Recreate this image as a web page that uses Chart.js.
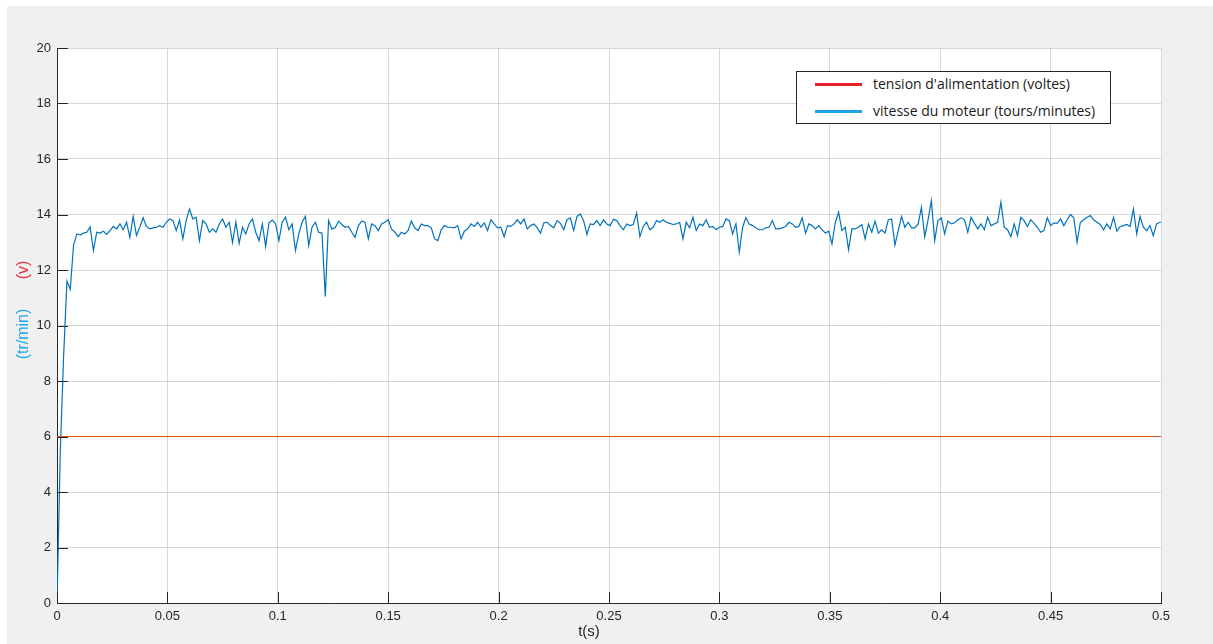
<!DOCTYPE html>
<html>
<head>
<meta charset="utf-8">
<script src="https://cdn.jsdelivr.net/npm/chart.js@4.4.1/dist/chart.umd.min.js"></script>
<style>
    body { margin: 0; background: #ffffff; }
    #wrap { position: relative; width: 1213px; height: 644px; }
    #legende {
        position: absolute; left: 796px; top: 71px; width: 313px; height: 51px;
        border: 1px solid #262626; background: #ffffff;
        font-family: "Open Sans", "Noto Sans", sans-serif; font-size: 14px; color: #1a1a1a;
    }
    .ligne { position: absolute; left: 0; height: 20px; line-height: 20px; white-space: nowrap; }
    .trait { position: absolute; left: 18px; top: 9px; width: 47px; height: 3px; }
    .texte { position: absolute; left: 76px; top: 0; }
</style>
</head>
<body>
<div id="wrap">
    <canvas id="moteurChart" width="1213" height="644"></canvas>
    <div id="legende"></div>
</div>
<script>
// Données
const xTicks = [0, 0.05, 0.1, 0.15, 0.2, 0.25, 0.3, 0.35, 0.4, 0.45, 0.5];
const xTickLabels = ['0', '0.05', '0.1', '0.15', '0.2', '0.25', '0.3', '0.35', '0.4', '0.45', '0.5'];
const yTicks = [0, 2, 4, 6, 8, 10, 12, 14, 16, 18, 20];
const yTickLabels = ['0', '2', '4', '6', '8', '10', '12', '14', '16', '18', '20'];

const legendLabels = ["tension d'alimentation (voltes)", 'vitesse du moteur (tours/minutes)'];
const legendColors = ['#E8222B', '#1CA3E3'];

// tension d'alimentation : constante
const tensionTimes = [0, 0.5];
const tensionValues = [6, 6];

// vitesse du moteur : un échantillon toutes les 1.5 ms
const sampleStep = 0.0015;
const vitesseValues = [
    0, 5.5, 8.9, 11.6, 11.3, 12.9, 13.3, 13.27, 13.33, 13.36,
    13.55, 12.7, 13.36, 13.33, 13.4, 13.28, 13.42, 13.57, 13.48, 13.66,
    13.45, 13.72, 13.18, 13.93, 13.24, 13.54, 13.88, 13.57, 13.48, 13.52,
    13.54, 13.6, 13.54, 13.72, 13.84, 13.78, 13.42, 13.8, 13.12, 13.78,
    14.2, 13.84, 13.9, 13.06, 13.78, 13.66, 13.36, 13.48, 13.36, 13.66,
    13.84, 13.54, 13.72, 12.99, 13.72, 12.96, 13.54, 13.3, 13.66, 13.84,
    13.36, 13.06, 13.66, 12.85, 13.7, 13.8, 13.66, 13.06, 13.72, 13.9,
    13.45, 13.66, 12.7, 13.3, 13.72, 13.93, 12.88, 13.54, 13.72, 13.36,
    13.33, 11.05, 13.78, 13.48, 13.52, 13.76, 13.64, 13.54, 13.57, 13.36,
    13.18, 13.6, 13.76, 13.72, 13.12, 13.66, 13.6, 13.42, 13.66, 13.72,
    13.81, 13.48, 13.36, 13.2, 13.36, 13.3, 13.42, 13.76, 13.52, 13.42,
    13.66, 13.6, 13.6, 13.52, 13.12, 13.06, 13.45, 13.6, 13.54, 13.54,
    13.52, 13.6, 13.12, 13.4, 13.48, 13.66, 13.57, 13.72, 13.54, 13.7,
    13.42, 13.81, 13.66, 13.52, 13.54, 13.2, 13.6, 13.57, 13.66, 13.81,
    13.66, 13.84, 13.48, 13.6, 13.66, 13.52, 13.33, 13.7, 13.72, 13.6,
    13.52, 13.78, 13.68, 13.45, 13.81, 13.88, 13.42, 13.93, 14.02, 13.78,
    13.28, 13.66, 13.64, 13.78, 13.6, 13.81, 13.66, 13.6, 13.83, 13.78,
    13.6, 13.45, 13.66, 13.6, 13.64, 14.05, 13.2, 13.57, 13.72, 13.45,
    13.54, 13.78, 13.72, 13.81, 13.72, 13.68, 13.64, 13.66, 13.72, 13.12,
    13.72, 13.52, 13.9, 13.42, 13.66, 13.6, 13.81, 13.54, 13.57, 13.45,
    13.54, 13.57, 13.84, 13.78, 13.3, 13.66, 12.64, 13.54, 13.88, 13.66,
    13.6, 13.52, 13.45, 13.45, 13.52, 13.54, 13.78, 13.48, 13.48, 13.52,
    13.57, 13.72, 13.66, 13.54, 13.57, 13.88, 13.33, 13.66, 13.6, 13.48,
    13.6, 13.45, 13.33, 13.4, 12.94, 13.72, 14.08, 13.42, 13.54, 12.73,
    13.48, 13.48, 13.54, 13.64, 13.12, 13.66, 13.36, 13.76, 13.33, 13.45,
    13.33, 13.81, 13.84, 12.9, 13.42, 13.93, 13.54, 13.72, 13.52, 13.52,
    13.66, 14.26, 13.2, 13.81, 14.5, 13.06, 13.78, 13.88, 13.3, 13.76,
    13.66, 13.7, 13.81, 13.88, 13.81, 13.36, 13.9, 13.68, 13.48, 13.66,
    13.45, 13.9, 13.6, 13.66, 13.72, 14.44, 13.54, 13.45, 13.2, 13.66,
    13.24, 13.9, 13.78, 13.57, 13.81, 13.68, 13.54, 13.36, 13.42, 13.88,
    13.6, 13.7, 13.68, 13.84, 13.6, 13.81, 14.0, 13.88, 13.0, 13.72,
    13.81, 13.9, 13.96, 13.81, 13.72, 13.64, 13.45, 13.66, 13.48, 13.9,
    13.4, 13.57, 13.6, 13.64, 13.57, 14.2, 13.3, 13.93, 13.54, 13.42,
    13.6, 13.24, 13.66, 13.72
];
const vitesseEnd = { t: 0.5, v: 13.72 };

// Construction des points
const tensionPoints = tensionTimes.map((t, i) => ({ x: t, y: tensionValues[i] }));
const vitessePoints = vitesseValues.map((v, i) => ({ x: +(i * sampleStep).toFixed(4), y: v }));
vitessePoints.push({ x: vitesseEnd.t, y: vitesseEnd.v });

// Légende HTML
const legende = document.getElementById('legende');
legendLabels.forEach(function(label, i) {
    const ligne = document.createElement('div');
    ligne.className = 'ligne';
    ligne.style.top = (2 + i * 27) + 'px';
    ligne.innerHTML = '<span class="trait" style="background:' + legendColors[i] + '"></span>' +
        '<span class="texte"></span>';
    ligne.querySelector('.texte').textContent = label;
    legende.appendChild(ligne);
});

// Fond gris de la figure + zone blanche des axes
const fondPlugin = {
    id: 'fond',
    beforeDraw(chart) {
        const c = chart.ctx, a = chart.chartArea;
        c.save();
        c.fillStyle = '#ffffff';
        c.fillRect(0, 0, chart.width, chart.height);
        c.fillStyle = '#f0f0f0';
        c.fillRect(7, 6, chart.width - 7, chart.height - 6);
        c.fillStyle = '#ffffff';
        c.fillRect(a.left, a.top, a.right - a.left, a.bottom - a.top);
        c.restore();
    }
};

// Graduations vers l'intérieur et titres des axes
const axesPlugin = {
    id: 'axes',
    afterDraw(chart) {
        const c = chart.ctx, a = chart.chartArea;
        const xs = chart.scales.x, ys = chart.scales.y;
        c.save();
        c.strokeStyle = '#262626';
        c.lineWidth = 1;
        c.beginPath();
        yTicks.forEach(function(v) {
            const py = Math.round(ys.getPixelForValue(v)) + 0.5;
            c.moveTo(a.left, py);
            c.lineTo(a.left + 11, py);
        });
        xTicks.forEach(function(v) {
            const px = Math.round(xs.getPixelForValue(v)) + 0.5;
            c.moveTo(px, a.bottom);
            c.lineTo(px, a.bottom - 11);
        });
        c.stroke();

        c.textAlign = 'center';
        c.textBaseline = 'middle';
        c.font = '15px "Liberation Sans", Arial, sans-serif';
        c.fillStyle = '#262626';
        c.fillText('t(s)', 589, 632);

        c.font = '16px "Liberation Sans", Arial, sans-serif';
        c.translate(24, 0);
        c.rotate(-Math.PI / 2);
        c.fillStyle = '#1FA5E8';
        c.fillText('(tr/min)', -334, 0);
        c.fillStyle = '#E8303A';
        c.fillText('(v)', -270, 0);
        c.restore();
    }
};

const ctx = document.getElementById('moteurChart');
new Chart(ctx, {
    type: 'line',
    data: {
        datasets: [{
            label: legendLabels[0],
            data: tensionPoints,
            borderColor: '#D95319',
            borderWidth: 1,
            pointRadius: 0,
            tension: 0
        }, {
            label: legendLabels[1],
            data: vitessePoints,
            borderColor: '#0072BD',
            borderWidth: 1.2,
            pointRadius: 0,
            tension: 0
        }]
    },
    options: {
        responsive: false,
        animation: false,
        devicePixelRatio: 1,
        layout: { padding: { top: 48, right: 52, left: 0, bottom: 0 } },
        plugins: {
            legend: { display: false },
            tooltip: { enabled: false }
        },
        scales: {
            x: {
                type: 'linear',
                min: 0,
                max: 0.5,
                afterBuildTicks: function(s) { s.ticks = xTicks.map(v => ({ value: v })); },
                afterFit: function(s) { s.height = 41; },
                grid: { color: '#d6d6d6', drawTicks: false },
                border: { color: '#262626', width: 1 },
                ticks: {
                    autoSkip: false,
                    maxRotation: 0,
                    padding: 6,
                    color: '#262626',
                    font: { family: '"Liberation Sans", Arial, sans-serif', size: 13 },
                    callback: function(v, i) { return xTickLabels[i]; }
                }
            },
            y: {
                min: 0,
                max: 20,
                afterBuildTicks: function(s) { s.ticks = yTicks.map(v => ({ value: v })); },
                afterFit: function(s) { s.width = 57; },
                grid: { color: '#d6d6d6', drawTicks: false },
                border: { color: '#262626', width: 1 },
                ticks: {
                    padding: 6,
                    color: '#262626',
                    font: { family: '"Liberation Sans", Arial, sans-serif', size: 13 },
                    callback: function(v, i) { return yTickLabels[i]; }
                }
            }
        }
    },
    plugins: [fondPlugin, axesPlugin]
});
</script>
</body>
</html>
